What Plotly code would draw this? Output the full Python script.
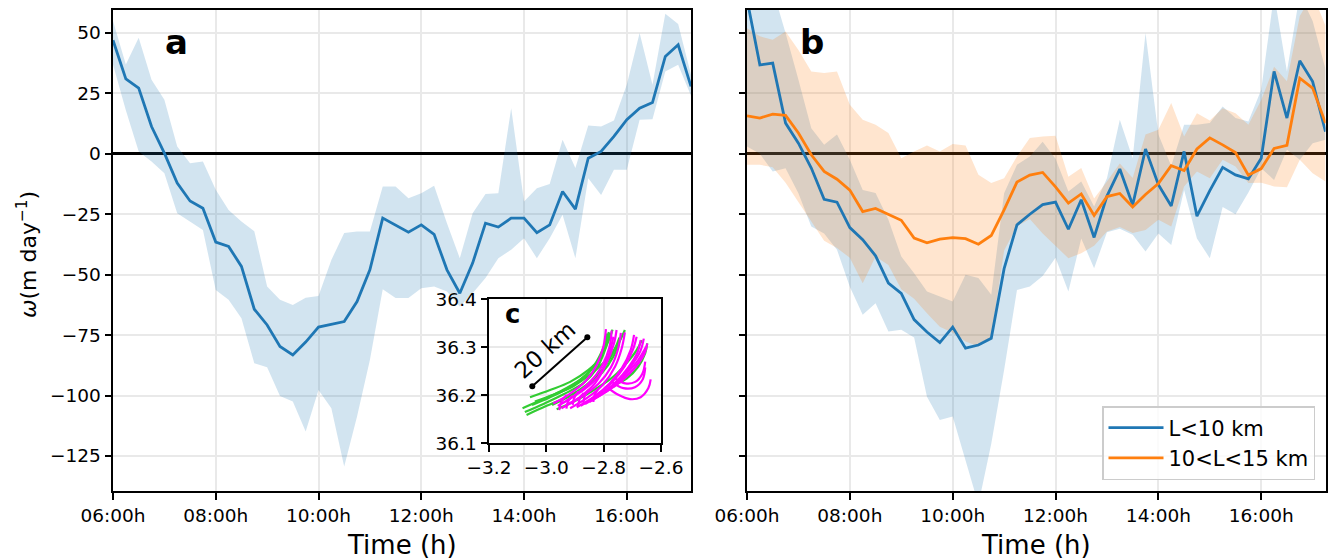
import plotly.graph_objects as go

W, H = 1328, 560
FONT = "DejaVu Sans"

# ---------------------------------------------------------------- data
times = ["06:00", "06:15", "06:30", "06:45", "07:00", "07:15", "07:30", "07:45",
         "08:00", "08:15", "08:30", "08:45", "09:00", "09:15", "09:30", "09:45",
         "10:00", "10:15", "10:30", "10:45", "11:00", "11:15", "11:30", "11:45",
         "12:00", "12:15", "12:30", "12:45", "13:00", "13:15", "13:30", "13:45",
         "14:00", "14:15", "14:30", "14:45", "15:00", "15:15", "15:30", "15:45",
         "16:00", "16:15", "16:30", "16:45", "17:00", "17:15"]

# panel a: all fronts
a_mean = [47, 31, 27.2, 11.3, 0.3, -12.1, -19.5, -22.5,
          -36.5, -38.3, -46.6, -64.3, -70.8, -79.7, -83.2, -77.9,
          -71.7, -70.4, -69.4, -61.1, -48, -26.6, -29.5, -32.4,
          -29.4, -33.3, -48, -57.7, -45.2, -28.7, -30.3, -26.6,
          -26.6, -32.6, -29.4, -15.6, -22.9, -1.8, 1.0, 7.2,
          14.1, 18.9, 21.2, 40.3, 45.1, 27.9]
a_upper = [55, 37, 48, 30.6, 22.4, 3, -3.9, -3.2,
           -14.9, -23.2, -28, -32, -54.9, -60.4, -62.5, -59.5,
           -58.8, -43.9, -32.8, -32.1, -32.1, -13.5, -13.5, -18.4,
           -16.3, -13.2, -28.7, -43.2, -24.6, -16.6, -16.3, 18.9,
           -19.7, -14.2, -12.5, 5.8, -5.9, 11.7, 11.3, 13.8,
           28.6, 50, 28.6, 58, 53.7, 32.7]
a_lower = [37, 18, 1, -3.2, -8, -24.6, -28, -31.5,
           -56.3, -60.4, -68, -86.6, -88.3, -100.2, -102.5, -114.9,
           -97.7, -105.3, -129.4, -108.7, -85.3, -56, -59.7, -59.7,
           -55.6, -54.9, -57, -63.2, -57.7, -51.4, -43.2, -39.7,
           -34.9, -43.2, -34.9, -25.2, -43.2, -10.1, -17, -6.6,
           -6.6, 14.1, 14.3, 34.1, 36.8, 24]

# panel b: L < 10 km
small_mean = [64, 36.8, 37.5, 12.7, 4.4, -5.9, -18.8, -20,
              -30.5, -35.5, -42.2, -53.5, -57.7, -68.6, -73.7, -78.1,
              -71.7, -80.4, -79.1, -76.3, -47.5, -29.4, -25, -21,
              -20, -31.2, -19, -34.6, -17.5, -6.3, -21.2, 2,
              -12.8, -21.6, 1, -25.8, -15.2, -5.6, -8.7, -10.4,
              -1.8, 34.1, 14.8, 38.5, 29.9, 9.2]
small_upper = [75, 70, 68, 50, 30.6, 10.6, 3.7, 8,
               -2.5, -15, -16.2, -27.3, -42.5, -49.4, -57, -59,
               -61.1, -50, -51.4, -58.3, -16.3, -4.5, -1.1, 5,
               -2, -15.6, -11.5, -21.8, -10.1, 14.1, -1.8, 50,
               8, -5, 12, 12, 12.7, 19.6, 14.8, 13.4,
               26.5, 66, 34.1, 66, 55, 35]
small_lower = [3, 0, -7.3, -6, -16.3, -30.1, -33, -39.7,
               -55, -66.6, -61.8, -73.5, -72.8, -76, -100.5, -110.1,
               -108.7, -126.7, -145, -120, -89.4, -56.3, -54.9, -50.5,
               -43, -57, -35, -47.3, -32.5, -31, -33.5, -40.4,
               -33, -37.7, -15, -35, -43.2, -22, -25, -16,
               -6, -10.8, 1.7, -2.5, 4.4, 5.8]

# panel b: 10 < L < 15 km
mid_mean = [15.7, 14.8, 16.4, 15.9, 8.6, -0.4, -7.3, -10.5,
            -15, -23.9, -22.6, -25, -27.5, -34.9, -36.8, -35.3,
            -34.7, -35.1, -37.4, -33.8, -23.2, -11.7, -8.8, -7.7,
            -13.7, -20.4, -16.6, -25.5, -17.7, -16.4, -22, -16.8,
            -12.3, -4.9, -6.9, 2, 6.6, 3.7, 0.5, -8.8,
            -6.1, 2.2, 3.5, 31.3, 27.2, 12.7]
mid_upper = [52, 48.6, 47.2, 50.6, 43, 34.1, 33.4, 34.1,
             20.3, 14.1, 12, 8.6, -1.8, 1, 3.4, 1,
             4.1, 3.4, -8.7, -12.1, -10.1, -1.1, 6.5, 7.2,
             7.5, -9.5, -5.9, -18.5, -11.5, -4, -10, 8,
             10, 21, 7.2, 16.8, 13.8, 18.9, 16.8, 12,
             22.3, 36, 30, 57, 66, 53]
mid_lower = [-4.5, -4.5, -5.6, -12, -20, -28, -36, -39,
             -43, -53.5, -42.5, -46, -56, -60, -66, -71.5,
             -74, -77.6, -79.7, -75.6, -40, -30, -27, -33,
             -38, -43.2, -41.1, -38, -32.1, -30.3, -32.8, -31.5,
             -27.3, -30.1, -13.5, -7.3, -10.1, -2.5, -5.2, -12.1,
             -12, -13.5, -13.8, -2.5, -8, -11.5]

time_ticks = [6, 8, 10, 12, 14, 16]
time_labels = ["06:00h", "08:00h", "10:00h", "12:00h", "14:00h", "16:00h"]
w_ticks = [-125, -100, -75, -50, -25, 0, 25, 50]

# inset c: drifter tracks (lon, lat)
green_lon = [
    [-3.083, -3.022, -2.952, -2.883, -2.836, -2.803, -2.790],
    [-3.069, -2.999, -2.929, -2.859, -2.807, -2.766, -2.737],
    [-3.057, -2.987, -2.917, -2.853, -2.813, -2.784, -2.769],
    [-3.040, -2.976, -2.906, -2.842, -2.790, -2.749, -2.726],
    [-2.964, -2.894, -2.824, -2.766, -2.720, -2.685, -2.667],
    [-2.766, -2.720, -2.679, -2.655, -2.648],
    [-3.075, -3.010, -2.940, -2.870, -2.825, -2.795, -2.780],
    [-3.050, -2.990, -2.930, -2.870, -2.830, -2.800, -2.782],
    [-2.980, -2.920, -2.860, -2.810, -2.770, -2.745],
]
green_lat = [
    [36.173, 36.189, 36.208, 36.232, 36.258, 36.291, 36.329],
    [36.159, 36.178, 36.196, 36.219, 36.246, 36.281, 36.326],
    [36.196, 36.211, 36.228, 36.253, 36.277, 36.312, 36.337],
    [36.187, 36.201, 36.219, 36.246, 36.274, 36.308, 36.336],
    [36.171, 36.190, 36.215, 36.239, 36.267, 36.294, 36.315],
    [36.221, 36.235, 36.260, 36.288, 36.308],
    [36.165, 36.182, 36.202, 36.226, 36.255, 36.295, 36.330],
    [36.180, 36.195, 36.213, 36.238, 36.265, 36.300, 36.332],
    [36.180, 36.198, 36.222, 36.250, 36.285, 36.320],
]
magenta_lon = [
    [-2.976, -2.923, -2.865, -2.824, -2.801, -2.792],
    [-2.947, -2.888, -2.830, -2.790, -2.764, -2.755],
    [-2.917, -2.859, -2.803, -2.760, -2.737, -2.726],
    [-2.894, -2.836, -2.780, -2.737, -2.706, -2.694],
    [-2.865, -2.813, -2.757, -2.714, -2.683, -2.671],
    [-2.842, -2.790, -2.737, -2.691, -2.660, -2.648],
    [-2.929, -2.871, -2.819, -2.784, -2.766],
    [-2.819, -2.772, -2.720, -2.679, -2.652],
    [-2.960, -2.905, -2.850, -2.805, -2.780, -2.772],
    [-2.930, -2.875, -2.818, -2.775, -2.750, -2.740],
    [-2.880, -2.825, -2.770, -2.727, -2.698, -2.685],
    [-2.850, -2.800, -2.747, -2.703, -2.672, -2.660],
    [-2.800, -2.755, -2.710, -2.675, -2.652],
    [-2.784, -2.749, -2.708, -2.671, -2.644, -2.636],
    [-2.772, -2.731, -2.691, -2.664, -2.655],
    [-2.760, -2.725, -2.690, -2.665, -2.655],
    [-2.955, -2.947, -2.929],
    [-2.908, -2.903, -2.888],
    [-2.871, -2.867, -2.853],
    [-2.836, -2.832, -2.818],
    [-2.930, -2.925, -2.910],
    [-2.890, -2.884, -2.870],
]
magenta_lat = [
    [36.183, 36.201, 36.228, 36.263, 36.301, 36.338],
    [36.173, 36.194, 36.225, 36.267, 36.308, 36.336],
    [36.173, 36.194, 36.222, 36.260, 36.298, 36.331],
    [36.175, 36.196, 36.224, 36.256, 36.294, 36.326],
    [36.182, 36.201, 36.228, 36.258, 36.288, 36.315],
    [36.190, 36.208, 36.232, 36.258, 36.284, 36.308],
    [36.190, 36.211, 36.239, 36.281, 36.322],
    [36.204, 36.218, 36.246, 36.274, 36.301],
    [36.178, 36.198, 36.226, 36.262, 36.300, 36.335],
    [36.180, 36.198, 36.224, 36.258, 36.296, 36.330],
    [36.178, 36.200, 36.228, 36.260, 36.295, 36.322],
    [36.186, 36.205, 36.232, 36.262, 36.292, 36.318],
    [36.205, 36.222, 36.245, 36.270, 36.298],
    [36.215, 36.201, 36.192, 36.196, 36.215, 36.233],
    [36.228, 36.215, 36.217, 36.233, 36.258],
    [36.235, 36.225, 36.228, 36.245, 36.270],
    [36.169, 36.187, 36.201],
    [36.180, 36.194, 36.208],
    [36.180, 36.197, 36.211],
    [36.186, 36.200, 36.214],
    [36.172, 36.186, 36.199],
    [36.176, 36.192, 36.205],
]
scale_lon = [-3.049, -2.857]
scale_lat = [36.219, 36.321]

# ---------------------------------------------------------------- helpers
hours = [int(s[:2]) + int(s[3:]) / 60 for s in times]
BLUE, ORANGE = "#1f77b4", "#ff7f0e"
BLUE_FILL, ORANGE_FILL = "rgba(31,119,180,0.2)", "rgba(255,127,14,0.2)"


def band(upper, lower, color, xa, ya):
    return go.Scatter(x=hours + hours[::-1], y=upper + lower[::-1],
                      fill="toself", fillcolor=color, mode="lines",
                      line=dict(width=0), hoverinfo="skip", showlegend=False,
                      xaxis=xa, yaxis=ya)


def px_x(p):
    return p / W


def px_y(p):
    return 1 - p / H


fig = go.Figure()

# panel a
fig.add_trace(band(a_upper, a_lower, BLUE_FILL, "x", "y"))
fig.add_trace(go.Scatter(x=hours, y=a_mean, mode="lines",
                         line=dict(color=BLUE, width=2.8), showlegend=False,
                         xaxis="x", yaxis="y"))

# panel b
fig.add_trace(band(small_upper, small_lower, BLUE_FILL, "x2", "y2"))
fig.add_trace(band(mid_upper, mid_lower, ORANGE_FILL, "x2", "y2"))
fig.add_trace(go.Scatter(x=hours, y=small_mean, mode="lines", name="L<10 km",
                         line=dict(color=BLUE, width=2.8),
                         xaxis="x2", yaxis="y2"))
fig.add_trace(go.Scatter(x=hours, y=mid_mean, mode="lines", name="10<L<15 km",
                         line=dict(color=ORANGE, width=2.8),
                         xaxis="x2", yaxis="y2"))

# inset c
for lo, la in zip(green_lon, green_lat):
    fig.add_trace(go.Scatter(x=lo, y=la, mode="lines", line_shape="spline",
                             line=dict(color="#33cc33", width=2.2),
                             showlegend=False, xaxis="x3", yaxis="y3"))
for lo, la in zip(magenta_lon, magenta_lat):
    fig.add_trace(go.Scatter(x=lo, y=la, mode="lines", line_shape="spline",
                             line=dict(color="#ff00ff", width=2.2),
                             showlegend=False, xaxis="x3", yaxis="y3"))
fig.add_trace(go.Scatter(x=scale_lon, y=scale_lat, mode="lines+markers",
                         line=dict(color="black", width=2),
                         marker=dict(color="black", size=6),
                         showlegend=False, xaxis="x3", yaxis="y3"))

tickfont = dict(family=FONT, size=18.5, color="black")
axis_common = dict(showline=True, linecolor="black", linewidth=2, mirror=True,
                   ticks="outside", ticklen=6.5, tickwidth=1.5, tickcolor="black",
                   showgrid=True, gridcolor="#e9e9e9", gridwidth=1.5,
                   tickfont=tickfont, zeroline=False, automargin=False)

y_dom = [px_y(491), px_y(10)]
y_common = dict(axis_common, range=[-139.5, 59.5], tickvals=w_ticks,
                zeroline=True, zerolinecolor="black", zerolinewidth=2.8)
x_common = dict(axis_common, range=[6, 17.25], tickvals=time_ticks,
                ticktext=time_labels)

fig.update_layout(
    width=W, height=H,
    margin=dict(l=0, r=0, t=0, b=0, autoexpand=False),
    paper_bgcolor="white", plot_bgcolor="white",
    font=dict(family=FONT, color="black"),
    xaxis=dict(x_common, domain=[px_x(113), px_x(691)], anchor="y"),
    yaxis=dict(y_common, domain=y_dom, anchor="x"),
    xaxis2=dict(x_common, domain=[px_x(747), px_x(1325.5)], anchor="y2"),
    yaxis2=dict(y_common, domain=y_dom, anchor="x2", matches="y",
                showticklabels=False),
    xaxis3=dict(axis_common, domain=[px_x(489), px_x(661)], anchor="y3",
                range=[-3.2, -2.6], tickvals=[-3.2, -3.0, -2.8, -2.6],
                tickformat=".1f"),
    yaxis3=dict(axis_common, domain=[px_y(443.3), px_y(299.3)], anchor="x3",
                range=[36.1, 36.4], tickvals=[36.1, 36.2, 36.3, 36.4],
                tickformat=".1f"),
    legend=dict(x=px_x(1315), y=px_y(480), xanchor="right", yanchor="bottom",
                bgcolor="rgba(255,255,255,0.8)", bordercolor="#cccccc",
                borderwidth=1.5, font=dict(family=FONT, size=21, color="black"),
                tracegroupgap=0, itemwidth=55),
    showlegend=True,
)

# white background of the inset, above panel a's grid
fig.add_shape(type="rect", xref="x3 domain", yref="y3 domain",
              x0=0, x1=1, y0=0, y1=1, fillcolor="white",
              line=dict(width=0), layer="below")

annotations = [
    dict(text="<b>a</b>", x=px_x(176), y=px_y(42), font=dict(size=34)),
    dict(text="<b>b</b>", x=px_x(812), y=px_y(42), font=dict(size=34)),
    dict(text="<b>c</b>", x=px_x(512), y=px_y(314), font=dict(size=26)),
    dict(text="Time (h)", x=px_x(402), y=px_y(545), font=dict(size=26)),
    dict(text="Time (h)", x=px_x(1036), y=px_y(545), font=dict(size=26)),
    dict(text="<i>ω</i>(m day<sup>−1</sup>)", x=px_x(27), y=px_y(255),
         textangle=-90, font=dict(size=22)),
]
for a in annotations:
    fig.add_annotation(xref="paper", yref="paper", showarrow=False,
                       xanchor="center", yanchor="middle", **a)
fig.add_annotation(text="20 km", x=-3.005, y=36.294, xref="x3", yref="y3",
                   showarrow=False, textangle=-42,
                   font=dict(family=FONT, size=23, color="black"))

fig.write_html("out.html")
